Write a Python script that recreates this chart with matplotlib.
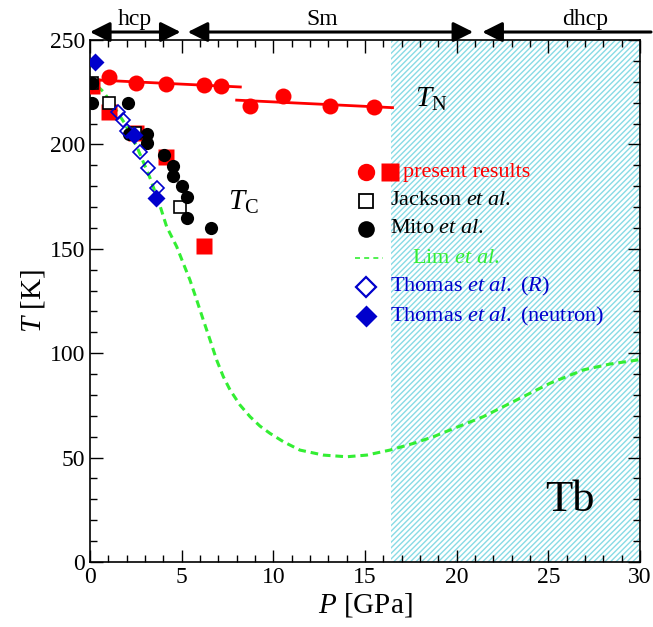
import matplotlib
matplotlib.use("Agg")
import matplotlib.pyplot as plt
from matplotlib.ticker import MultipleLocator

plt.rcParams['font.family'] = 'Liberation Serif'
plt.rcParams['mathtext.fontset'] = 'custom'
plt.rcParams['mathtext.rm'] = 'Liberation Serif'
plt.rcParams['mathtext.it'] = 'Liberation Serif:italic'
plt.rcParams['hatch.linewidth'] = 1.0

# ---- data ----
tn_p = [1.05, 2.5, 4.15, 6.22, 7.13, 8.73, 10.51, 13.09, 15.49]
tn_t = [232.1, 229.2, 229.0, 228.4, 227.9, 218.5, 223.2, 218.5, 218.1]
tn_fit1_p = [0.0, 8.2]
tn_fit1_t = [231.0, 227.5]
tn_fit2_p = [8.0, 16.5]
tn_fit2_t = [221.2, 217.6]

tc_p = [0.1, 1.02, 2.5, 4.15, 6.22]
tc_t = [228.0, 215.7, 205.5, 193.8, 151.5]

jackson_p = [0.1, 1.05, 2.45, 4.9]
jackson_t = [229.5, 219.6, 205.3, 169.9]

mito_p = [0.1, 0.1, 2.05, 2.1, 3.09, 3.09, 4.04, 4.5, 4.5, 5.0, 5.3, 5.3, 6.58]
mito_t = [229.5, 220.0, 219.6, 205.0, 205.0, 200.5, 195.0, 189.7, 184.7, 180.0, 175.0, 164.6, 159.8]

lim_p = [0.4, 0.75, 1.3, 1.9, 2.6, 3.27, 3.75, 4.18, 4.455, 4.73, 5.09, 5.45, 5.82,
         6.18, 6.55, 6.91, 7.27, 7.64, 8.18, 8.73, 9.27, 9.82, 10.55, 11.45, 12.73,
         14.0, 15.09, 16.36, 17.64, 18.73, 20.0, 21.45, 22.36, 23.27, 24.18, 25.09,
         26.0, 26.91, 28.36, 29.82, 30.0]
lim_t = [228.0, 225.0, 218.0, 210.0, 198.0, 184.0, 172.5, 160.6, 155.8, 151.0, 143.0,
         135.1, 125.5, 115.9, 106.3, 96.7, 88.8, 82.4, 75.2, 69.6, 65.1, 61.6, 57.6,
         53.6, 51.2, 50.4, 51.2, 53.6, 56.8, 60.0, 64.5, 69.6, 73.6, 77.6, 81.6, 85.6,
         88.8, 92.0, 94.8, 96.7, 97.0]

thomas_r_p = [1.55, 1.8, 2.0, 2.7, 3.15, 3.64]
thomas_r_t = [215.7, 211.5, 206.6, 196.3, 188.5, 179.2]

thomas_n_p = [0.25, 2.4, 3.6]
thomas_n_t = [239.5, 204.5, 174.3]

dhcp_start = 16.4
phase_names = ['hcp', 'Sm', 'dhcp']
phase_bounds = [(0.0, 4.94), (5.33, 20.9), (21.4, 30.6)]
phase_label_x = [2.45, 12.65, 27.0]

RED = '#ff0000'
BLUE = '#0000cc'
GREEN = '#33ee33'

fig = plt.figure(figsize=(6.53, 6.27), dpi=100)
ax = fig.add_axes([90/653, 65/627, 550/653, 522/627])

# hatched dhcp region
ax.fill_betweenx([0, 250], dhcp_start, 30, facecolor='white', edgecolor='#88dbe5',
                 hatch='//////', linewidth=0, zorder=0)

# Lim curve
ax.plot(lim_p, lim_t, color=GREEN, lw=2.2, ls=(0, (2.5, 1.6)), zorder=2)

# T_N fits and points
ax.plot(tn_fit1_p, tn_fit1_t, color=RED, lw=2, zorder=3)
ax.plot(tn_fit2_p, tn_fit2_t, color=RED, lw=2, zorder=3)
ax.plot(tn_p, tn_t, 'o', color=RED, ms=11.5, mec='none', zorder=4)

# Tc present
ax.plot(tc_p, tc_t, 's', color=RED, ms=12, mec='none', zorder=3)
# Jackson
ax.plot(jackson_p, jackson_t, 's', mfc='white', mec='black', mew=1.2, ms=8.5, zorder=4)
# Mito
ax.plot(mito_p, mito_t, 'o', color='black', ms=9.5, mec='none', zorder=5)
# Thomas R
ax.plot(thomas_r_p, thomas_r_t, 'D', mfc='none', mec=BLUE, mew=1.2, ms=7, zorder=6)
# Thomas neutron
ax.plot(thomas_n_p, thomas_n_t, 'D', color=BLUE, mec='none', ms=9.5, zorder=7)

ax.set_xlim(0, 30)
ax.set_ylim(0, 250)
ax.xaxis.set_major_locator(MultipleLocator(5))
ax.xaxis.set_minor_locator(MultipleLocator(1))
ax.yaxis.set_major_locator(MultipleLocator(50))
ax.yaxis.set_minor_locator(MultipleLocator(10))
ax.tick_params(which='both', direction='in', top=True, right=True, labelsize=17, width=1)
ax.tick_params(which='major', length=9)
ax.tick_params(which='minor', length=5)
for s in ax.spines.values():
    s.set_linewidth(1.2)
ax.set_xlabel('$P$ [GPa]', fontsize=21, labelpad=2)
ax.set_ylabel('$T$ [K]', fontsize=21, labelpad=2)

# phase arrows at top
tr = ax.get_xaxis_transform()
for (a, b), name, lx in zip(phase_bounds, phase_names, phase_label_x):
    style = '-|>' if name == 'dhcp' else '<|-|>'
    ax.annotate('', xy=(a, 1.0153), xytext=(b, 1.0153), xycoords=tr, textcoords=tr,
                arrowprops=dict(arrowstyle=style + ',head_length=0.6,head_width=0.3', lw=2.2,
                                color='black', mutation_scale=20, shrinkA=0, shrinkB=0),
                annotation_clip=False)
    ax.text(lx, 1.02, name, transform=tr, ha='center', va='bottom', fontsize=17,
            family='Liberation Serif')

# labels
ax.text(0.591, 0.872, '$T_{\\rm N}$', transform=ax.transAxes, fontsize=21, va='baseline')
ax.text(0.251, 0.674, '$T_{\\rm C}$', transform=ax.transAxes, fontsize=21, va='baseline')
ax.text(0.873, 0.119, 'Tb', transform=ax.transAxes, fontsize=32, ha='center', va='center',
        family='Liberation Serif')

# manual legend
lx_m = 0.502
rows = [0.747, 0.6916, 0.638, 0.582, 0.527, 0.471]
ax.plot([lx_m], [rows[0]], 'o', color=RED, ms=12.5, mec='none', transform=ax.transAxes, clip_on=False, zorder=8)
ax.plot([0.545], [rows[0]], 's', color=RED, ms=12.5, mec='none', transform=ax.transAxes, clip_on=False, zorder=8)
ax.text(0.569, rows[0], 'present results', color=RED, fontsize=16, va='center', transform=ax.transAxes)
ax.plot([lx_m], [rows[1]], 's', mfc='white', mec='black', mew=1.3, ms=9.5, transform=ax.transAxes, zorder=8)
ax.text(0.545, rows[1], 'Jackson $et\\ al.$', color='black', fontsize=16, va='center', transform=ax.transAxes)
ax.plot([lx_m], [rows[2]], 'o', color='black', ms=12, mec='none', transform=ax.transAxes, zorder=8)
ax.text(0.545, rows[2], 'Mito $et\\ al.$', color='black', fontsize=16, va='center', transform=ax.transAxes)
ax.plot([0.482, 0.533], [rows[3], rows[3]], color=GREEN, lw=1.2, ls=(0, (3, 2.5)), transform=ax.transAxes, zorder=8)
ax.text(0.585, rows[3], 'Lim $et\\ al.$', color=GREEN, fontsize=16, va='center', transform=ax.transAxes)
ax.plot([lx_m], [rows[4]], 'D', mfc='white', mec=BLUE, mew=1.6, ms=10, transform=ax.transAxes, zorder=8)
ax.text(0.545, rows[4], 'Thomas $et\\ al.$ ($R$)', color=BLUE, fontsize=16, va='center', transform=ax.transAxes)
ax.plot([lx_m], [rows[5]], 'D', color=BLUE, mec='none', ms=11, transform=ax.transAxes, zorder=8)
ax.text(0.545, rows[5], 'Thomas $et\\ al.$ (neutron)', color=BLUE, fontsize=16, va='center', transform=ax.transAxes)

fig.savefig('out.png', dpi=100)
